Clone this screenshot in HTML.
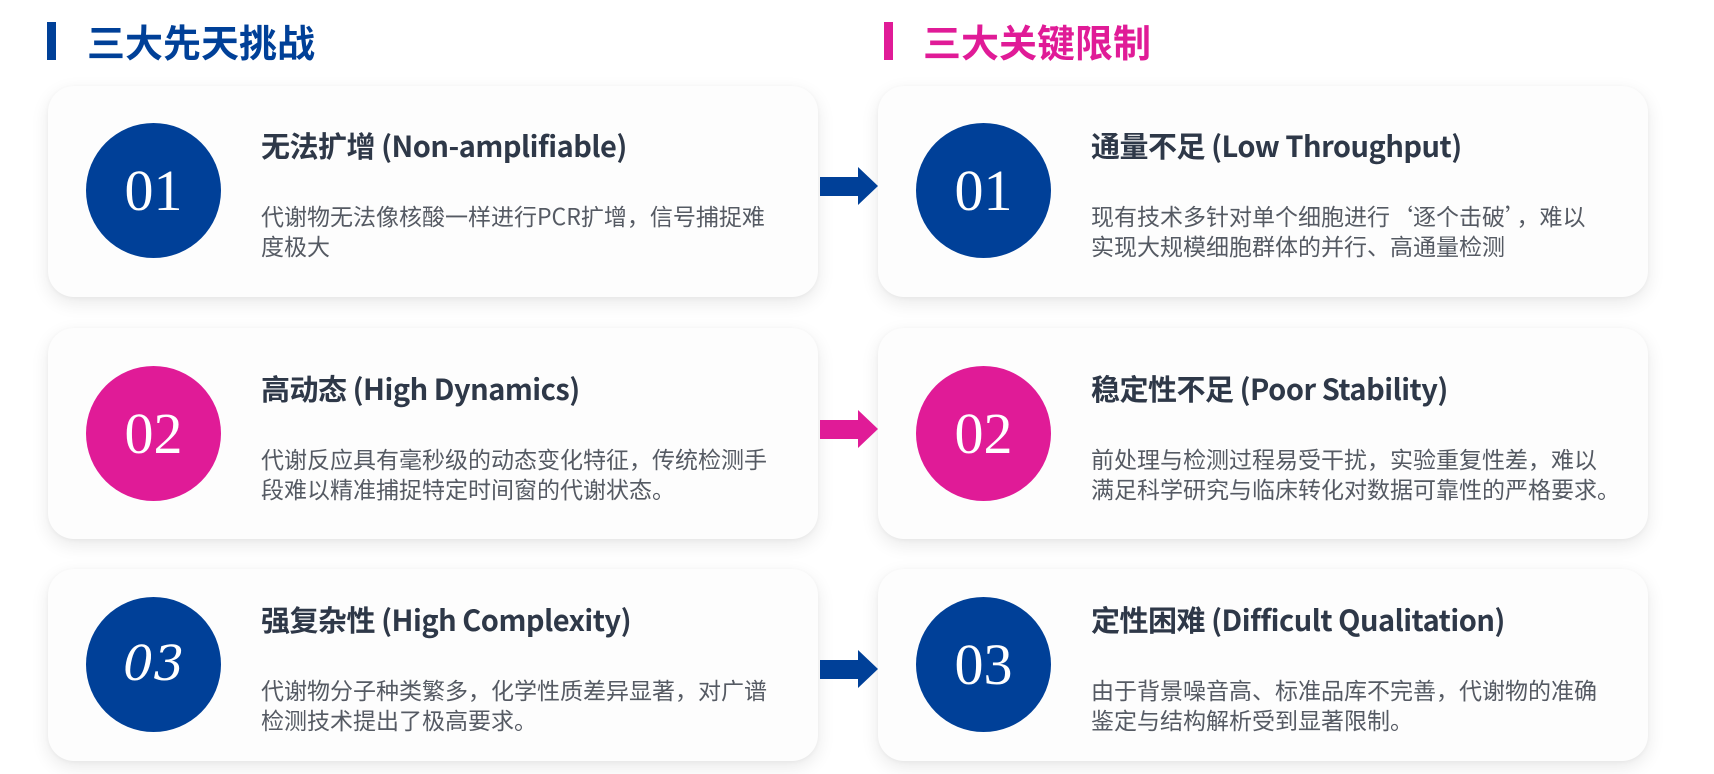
<!DOCTYPE html>
<html><head><meta charset="utf-8"><style>
body{margin:0;width:1714px;height:774px;background:#fff;position:relative;overflow:hidden;font-family:"Liberation Sans","Noto Sans CJK SC",sans-serif;}
.hb{position:absolute;width:9px;height:38px;top:22px}
.ht{position:absolute;top:15px;font-size:38px;font-weight:bold;line-height:52px;font-family:"Noto Sans CJK SC",sans-serif;letter-spacing:0px}
.card{position:absolute;width:770px;background:#fdfdfd;border-radius:26px;box-shadow:0 6px 18px rgba(0,0,0,0.09),0 1px 4px rgba(0,0,0,0.04)}
.c{position:absolute;left:38px;width:135px;height:135px;border-radius:50%;color:#fff;font-family:"Liberation Serif",serif;font-size:58px;text-align:center;line-height:135px}
.t{position:absolute;left:213px;font-size:29px;font-weight:bold;color:#2e3848;line-height:36px;white-space:nowrap;font-family:"Noto Sans CJK SC",sans-serif;letter-spacing:-0.5px}
.d{position:absolute;left:213px;width:560px;font-size:23px;color:#555a63;line-height:30px;font-family:"Noto Sans CJK SC",sans-serif;white-space:nowrap}
.blue{background:#004098}.pink{background:#e01b97}
.ar{position:absolute;left:820px;width:58px;height:38px}
</style></head><body>
<div class="hb blue" style="left:47px"></div><div class="ht" style="left:87px;color:#004098">三大先天挑战</div>
<div class="hb pink" style="left:884px"></div><div class="ht" style="left:923px;color:#e01b97">三大关键限制</div>

<div class="card" style="left:48px;top:86px;height:211px">
<div class="c blue" style="top:37px">01</div>
<div class="t" style="top:41px">无法扩增 (Non-amplifiable)</div>
<div class="d" style="top:114px">代谢物无法像核酸一样进行PCR扩增，信号捕捉难<br>度极大</div></div>
<div class="card" style="left:48px;top:328px;height:211px">
<div class="c pink" style="top:38px">02</div>
<div class="t" style="top:42px">高动态 (High Dynamics)</div>
<div class="d" style="top:115px">代谢反应具有毫秒级的动态变化特征，传统检测手<br>段难以精准捕捉特定时间窗的代谢状态。</div></div>
<div class="card" style="left:48px;top:569px;height:192px">
<div class="c blue" style="top:28px;font-family:'DejaVu Serif',serif;font-style:italic;font-size:48px">03</div>
<div class="t" style="top:32px">强复杂性 (High Complexity)</div>
<div class="d" style="top:105px">代谢物分子种类繁多，化学性质差异显著，对广谱<br>检测技术提出了极高要求。</div></div>

<div class="card" style="left:878px;top:86px;height:211px">
<div class="c blue" style="top:37px">01</div>
<div class="t" style="top:41px">通量不足 (Low Throughput)</div>
<div class="d" style="top:114px">现有技术多针对单个细胞进行‘逐个击破’，难以<br>实现大规模细胞群体的并行、高通量检测</div></div>
<div class="card" style="left:878px;top:328px;height:211px">
<div class="c pink" style="top:38px">02</div>
<div class="t" style="top:42px">稳定性不足 (Poor Stability)</div>
<div class="d" style="top:115px">前处理与检测过程易受干扰，实验重复性差，难以<br>满足科学研究与临床转化对数据可靠性的严格要求。</div></div>
<div class="card" style="left:878px;top:569px;height:192px">
<div class="c blue" style="top:28px">03</div>
<div class="t" style="top:32px">定性困难 (Difficult Qualitation)</div>
<div class="d" style="top:105px">由于背景噪音高、标准品库不完善，代谢物的准确<br>鉴定与结构解析受到显著限制。</div></div>

<svg class="ar" style="top:167px" viewBox="0 0 58 38"><polygon points="0,10 38,10 38,0 58,19 38,38 38,29 0,29" fill="#004098"/></svg>
<svg class="ar" style="top:410px" viewBox="0 0 58 38"><polygon points="0,10 38,10 38,0 58,19 38,38 38,29 0,29" fill="#e01b97"/></svg>
<svg class="ar" style="top:650px" viewBox="0 0 58 38"><polygon points="0,10 38,10 38,0 58,19 38,38 38,29 0,29" fill="#004098"/></svg>
</body></html>
